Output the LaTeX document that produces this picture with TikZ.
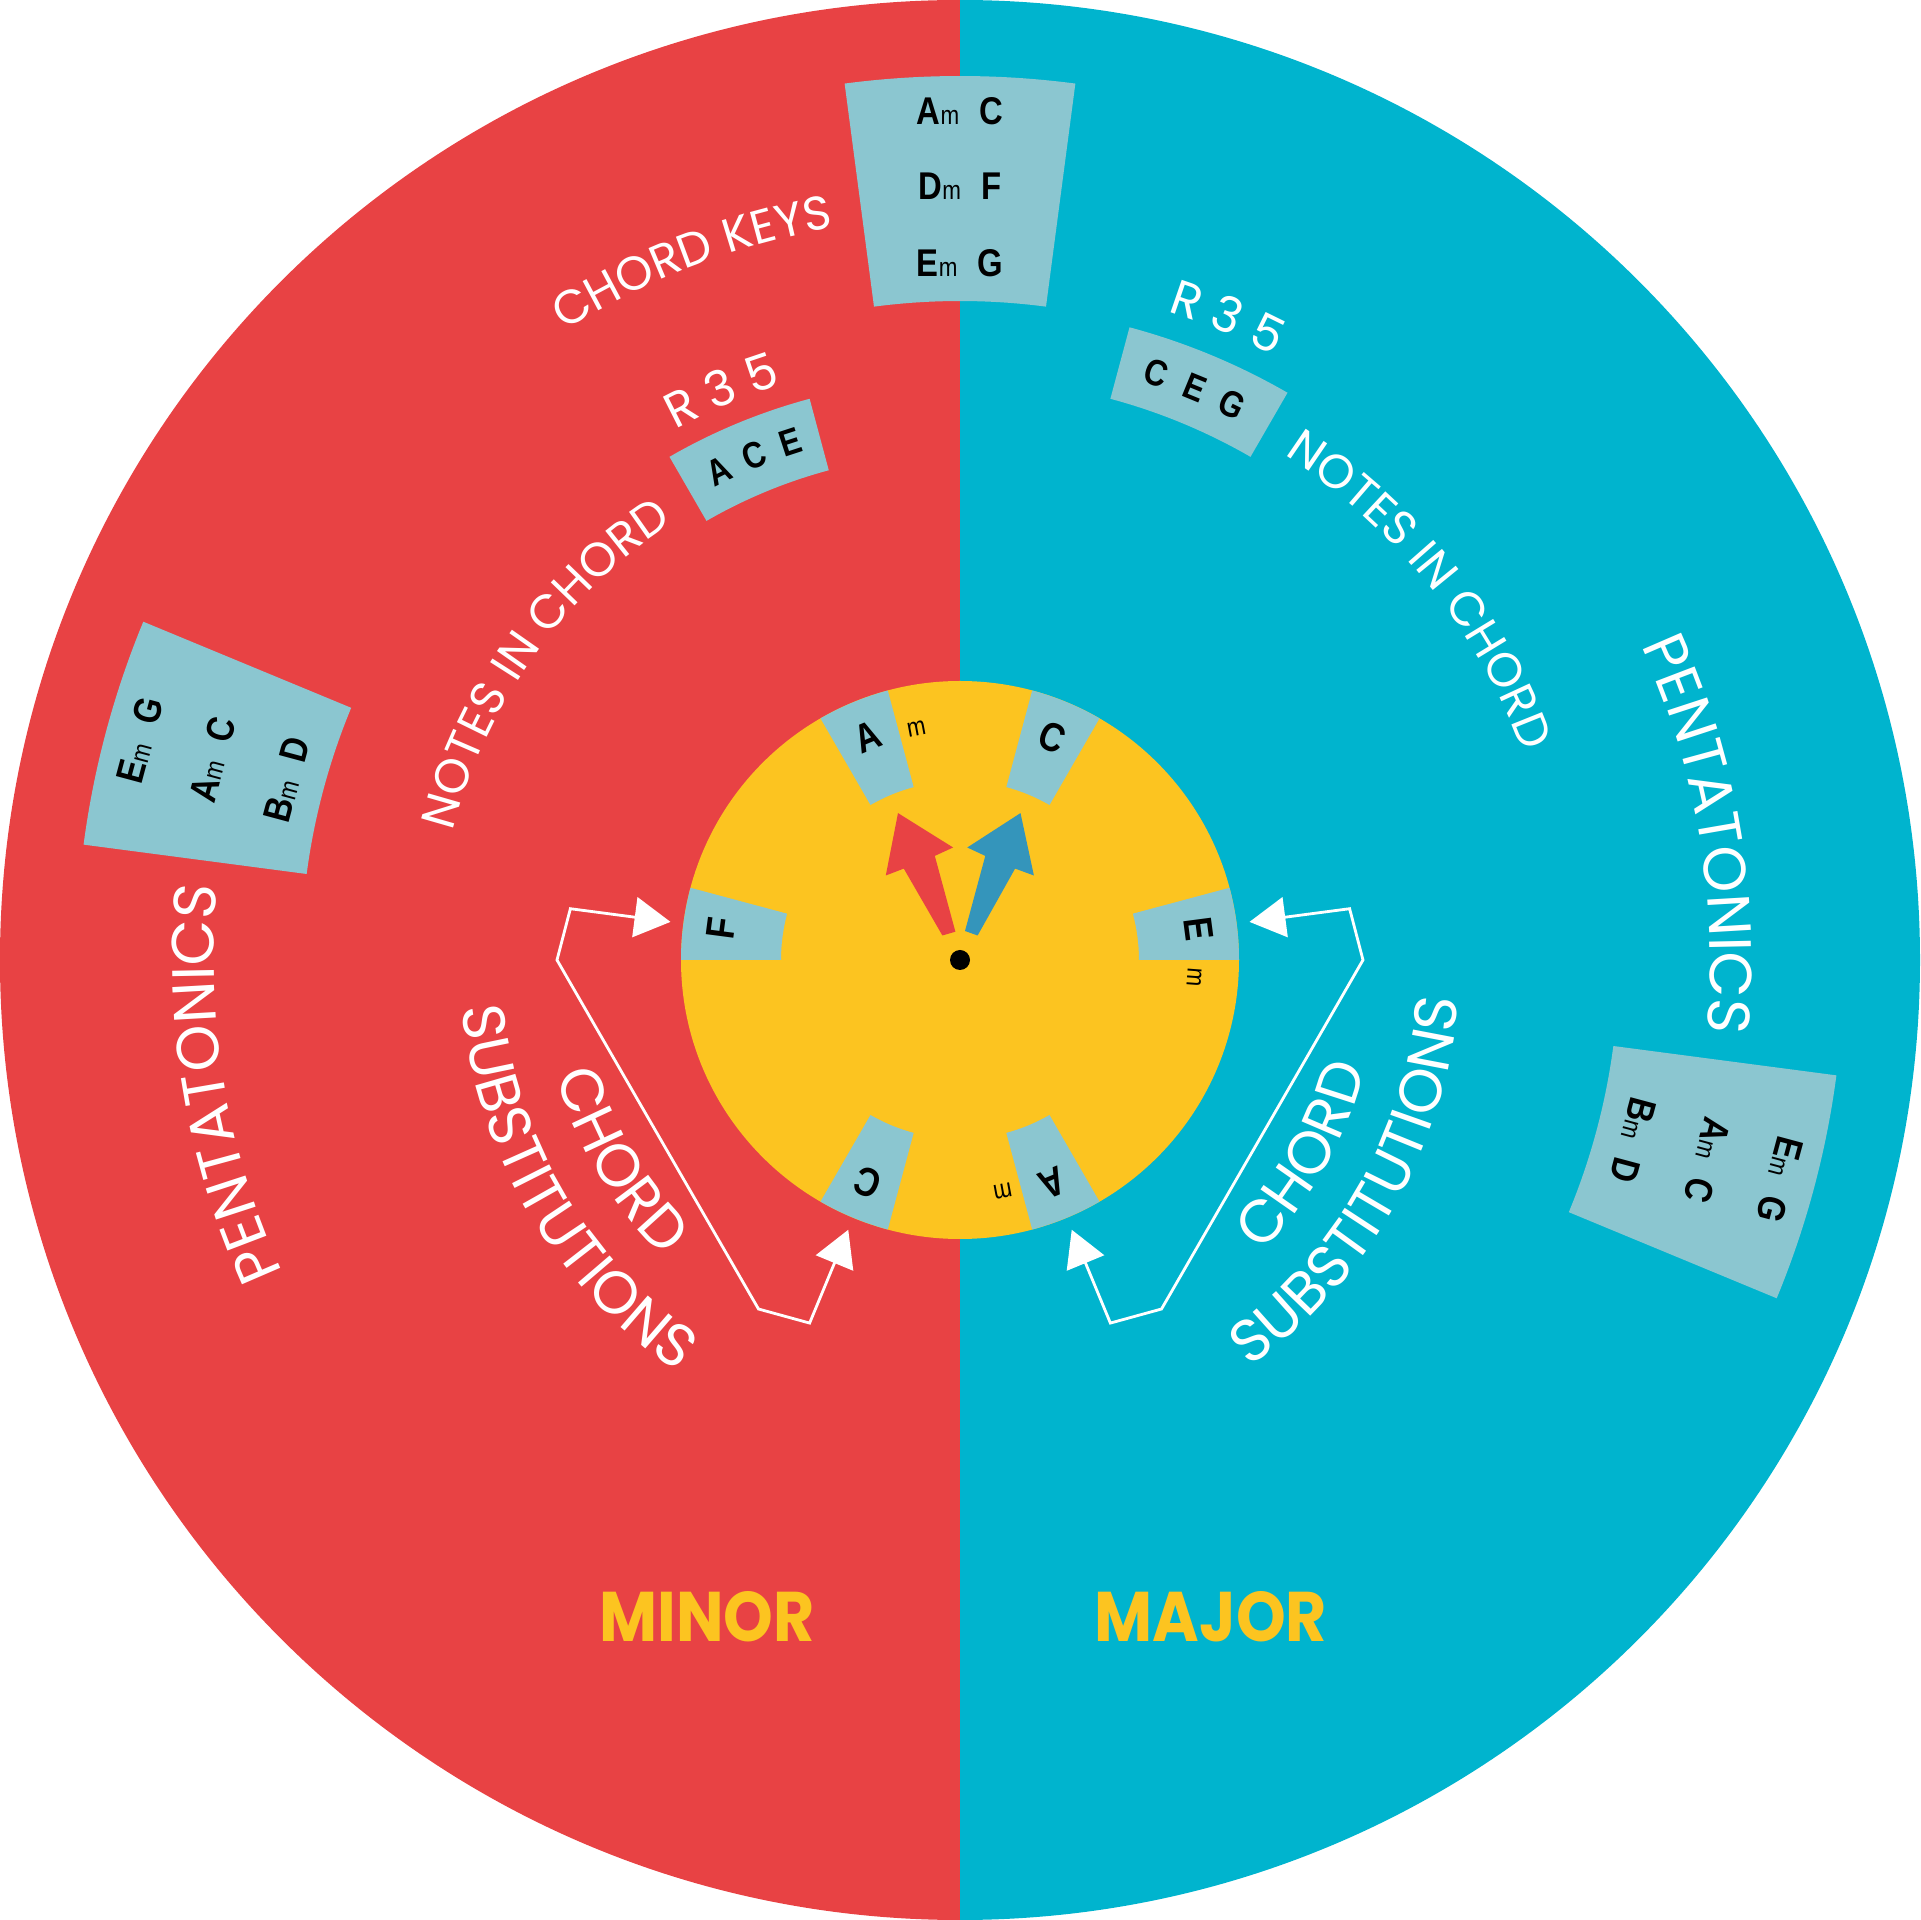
\documentclass[tikz,border=0pt]{standalone}
\usepackage{fontspec}
\setmainfont{Poppins}
\newfontfamily\keyfont[FakeStretch=0.85]{Liberation Sans}
\newfontfamily\modefont[FakeStretch=0.9]{Poppins}
\usetikzlibrary{decorations.text,arrows.meta}

\definecolor{minorred}{RGB}{232,66,68}
\definecolor{majorcyan}{RGB}{0,180,206}
\definecolor{wheelyellow}{RGB}{252,196,32}
\definecolor{tabblue}{RGB}{139,198,208}
\definecolor{pointerblue}{RGB}{52,149,187}

\newcommand{\chordpair}[2]{{\bfseries #1}{\fontsize{7.5}{8}\selectfont m}\hspace{0.2cm}{\bfseries #2}}
\newcommand{\smalllabel}{\color{white}\fontsize{13.5}{16}\selectfont}
\newcommand{\biglabel}{\color{white}\fontsize{17}{19}\selectfont}
\newcommand{\numlabel}{\color{white}\fontsize{14}{16}\selectfont}

\tikzset{
  tabfill/.style={fill=tabblue},
  tabletter/.style={font=\keyfont\bfseries\fontsize{11.5}{12}\selectfont, inner sep=0pt},
  tabsub/.style={font=\keyfont\fontsize{7.5}{8}\selectfont, inner sep=0pt},
  keyrow/.style={font=\keyfont\fontsize{11}{12}\selectfont, inner sep=0pt},
  noteletter/.style={font=\keyfont\bfseries\fontsize{10.5}{11}\selectfont, inner sep=0pt},
  bracket/.style={white, line width=0.8pt,
    {Triangle[length=0.36cm,width=0.4cm]}-{Triangle[length=0.36cm,width=0.4cm]}},
  arclabel/.style={decorate, decoration={text along path, text align=center}},
  modelabel/.style={font=\modefont\bfseries\fontsize{20}{24}\selectfont, text=wheelyellow, inner sep=0pt}
}

\begin{document}
\begin{tikzpicture}
  \useasboundingbox (-9.6,-9.6) rectangle (9.6,9.6);
  %% the two halves
  \fill[minorred] (90:9.6) arc[start angle=90, end angle=270, radius=9.6] -- cycle;
  \fill[majorcyan] (-90:9.6) arc[start angle=-90, end angle=90, radius=9.6] -- cycle;

  %% outer panels
  \foreach \a in {82.5,157.5,-22.5} {
    \fill[tabfill] (\a:6.59) arc[start angle=\a, end angle=\a+15, radius=6.59]
      -- ({\a+15}:8.84) arc[start angle=\a+15, end angle=\a, radius=8.84] -- cycle;
  }
  \fill[tabfill] (105:5.07) arc[start angle=105, end angle=120, radius=5.07]
    -- (120:5.81) arc[start angle=120, end angle=105, radius=5.81] -- cycle;
  \fill[tabfill] (60:5.81) arc[start angle=60, end angle=75, radius=5.81]
    -- (75:6.55) arc[start angle=75, end angle=60, radius=6.55] -- cycle;

  \node[keyrow] (keys1) at (90:8.49) {\chordpair{A}{C}};
  \node[keyrow] (keys2) at (90:7.74) {\chordpair{D}{F}};
  \node[keyrow] (keys3) at (90:6.97) {\chordpair{E}{G}};
  \node[keyrow,rotate=75] (pentL1) at (165:8.49) {\chordpair{E}{G}};
  \node[keyrow,rotate=75] (pentL2) at (165:7.74) {\chordpair{A}{C}};
  \node[keyrow,rotate=75] (pentL3) at (165:6.97) {\chordpair{B}{D}};
  \node[keyrow,rotate=-105] (pentR1) at (-15:8.49) {\chordpair{E}{G}};
  \node[keyrow,rotate=-105] (pentR2) at (-15:7.74) {\chordpair{A}{C}};
  \node[keyrow,rotate=-105] (pentR3) at (-15:6.97) {\chordpair{B}{D}};

  \node[noteletter,rotate=26.3] (minA) at (116.3:5.45) {A};
  \node[noteletter,rotate=22.2] (minC) at (112.2:5.45) {C};
  \node[noteletter,rotate=18.1] (minE) at (108.1:5.45) {E};
  \node[noteletter,rotate=-18.5] (majC) at (71.5:6.19) {C};
  \node[noteletter,rotate=-22.3] (majE) at (67.7:6.19) {E};
  \node[noteletter,rotate=-26.1] (majG) at (63.9:6.19) {G};

  %% white labels on arcs
  \path[arclabel, decoration={text={|\smalllabel|CHORD KEYS}}]
    (141:7.43) arc[start angle=141, end angle=81, radius=7.43];
  \path[arclabel, decoration={text={|\smalllabel|NOTES IN CHORD}}]
    (184.5:5.23) arc[start angle=184.5, end angle=104.5, radius=5.23];
  \path[arclabel, decoration={text={|\smalllabel|NOTES IN CHORD}}]
    (78.8:6.0) arc[start angle=78.8, end angle=-1.2, radius=6.0];
  \path[arclabel, decoration={text={|\numlabel|R 3 5}}]
    (132.7:6.02) arc[start angle=132.7, end angle=92.7, radius=6.02];
  \path[arclabel, decoration={text={|\numlabel|R 3 5}}]
    (87.4:6.81) arc[start angle=87.4, end angle=47.4, radius=6.81];
  \path[arclabel, decoration={text={|\biglabel|PENTATONICS}}]
    (229.5:7.46) arc[start angle=229.5, end angle=149.5, radius=7.46];
  \path[arclabel, decoration={text={|\biglabel|PENTATONICS}}]
    (49.6:7.5) arc[start angle=49.6, end angle=-30.4, radius=7.5];
  \path[arclabel, decoration={text={|\biglabel|CHORD}}]
    (170.5:4.2) arc[start angle=170.5, end angle=250.5, radius=4.2];
  \path[arclabel, decoration={text={|\biglabel|SUBSTITUTIONS}}]
    (160.5:5.0) arc[start angle=160.5, end angle=260.5, radius=5.0];
  \path[arclabel, decoration={text={|\biglabel|CHORD}}]
    (290.5:4.2) arc[start angle=290.5, end angle=370.5, radius=4.2];
  \path[arclabel, decoration={text={|\biglabel|SUBSTITUTIONS}}]
    (280.5:5.0) arc[start angle=280.5, end angle=380.5, radius=5.0];

  %% inner wheel
  \fill[wheelyellow] (0,0) circle (2.79);
  \foreach \s/\l in {0/E,60/C,105/A,165/F,240/C,285/A} {
    \pgfmathsetmacro{\e}{\s+15}
    \pgfmathsetmacro{\m}{\s+7.5}
    \pgfmathsetmacro{\r}{\s-82.5}
    \fill[tabfill] (\s:1.79) arc[start angle=\s, end angle=\e, radius=1.79]
      -- (\e:2.79) arc[start angle=\e, end angle=\s, radius=2.79] -- cycle;
    \node[tabletter,rotate=\r] (tab\s) at (\m:2.41) {\l};
  }
  \node[tabsub,rotate=10.7] (subA) at (100.7:2.35) {m};
  \node[tabsub,rotate=-94.3] (subE) at (-4.3:2.35) {m};
  \node[tabsub,rotate=190.5] (subAb) at (280.5:2.35) {m};

  %% pointers
  \fill[minorred] (-0.176,0.245) -- (-0.562,0.914) -- (-0.742,0.845) -- (-0.620,1.469)
    -- (-0.069,1.125) -- (-0.252,1.041) -- (-0.046,0.283) -- cycle;
  \fill[pointerblue] (0.050,0.290) -- (0.253,1.041) -- (0.073,1.125) -- (0.605,1.469)
    -- (0.739,0.845) -- (0.551,0.914) -- (0.176,0.245) -- cycle;
  \fill[black] (0,0) circle (0.1);

  %% substitution brackets
  \coordinate (Ftip) at (172.5:2.92);
  \coordinate (Cmintip) at (247.5:2.92);
  \coordinate (Etip) at (7.5:2.92);
  \coordinate (Amajtip) at (292.5:2.92);
  \draw[bracket] (Ftip) -- (172.5:3.93) -- (180:4.03) -- (240:4.03) -- (247.5:3.93) -- (Cmintip);
  \draw[bracket] (Etip) -- (7.5:3.93) -- (0:4.03) -- (-60:4.03) -- (-67.5:3.93) -- (Amajtip);

  \node[modelabel] (minor) at (-2.53,-6.57) {MINOR};
  \node[modelabel] (major) at (2.51,-6.57) {MAJOR};
\end{tikzpicture}
\end{document}
